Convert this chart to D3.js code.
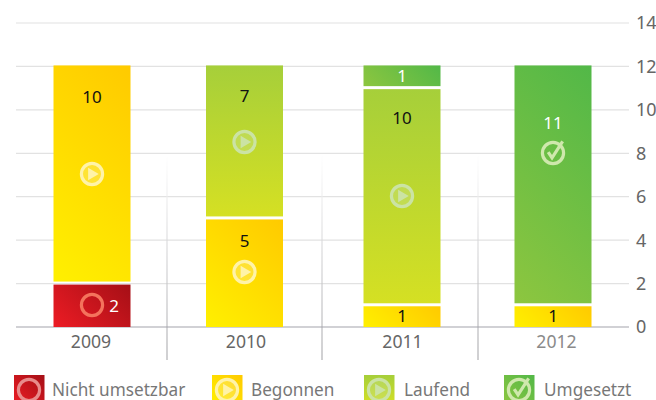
<!DOCTYPE html>
<html><head><meta charset="utf-8">
<script src="https://cdn.jsdelivr.net/npm/d3@7"></script>
<style>html,body{margin:0;padding:0;background:#fff;overflow:hidden}svg{display:block}text{font-family:"Noto Sans",sans-serif}</style>
</head><body><div id="c"></div>
<script>
const years = ["2009","2010","2011","2012"];
const seriesNames = ["Nicht umsetzbar","Begonnen","Laufend","Umgesetzt"];
const nichtUmsetzbar = [2,0,0,0];
const begonnen = [10,5,1,1];
const laufend = [0,7,10,0];
const umgesetzt = [0,0,1,11];
const yTicks = [0,2,4,6,8,10,12,14];

// layout only (separate from the data)
const W=656,H=400;
const barW=77;
const xCenters=[92,244.5,402,553];
const xLabelCenters=[91,246,402.5,556.5];
const separators=[167,322,478];
const legendX=[14,212,364,504];
const legendTextX=[52,251,404,544];
const labelLayout={ // per series, per year: [label cx, label cy, icon cx, icon cy]
  "Nicht umsetzbar":{"2009":[114,306,92,305]},
  "Begonnen":{"2009":[92,97,92,174],"2010":[244.5,241,244.5,272],"2011":[402,316],"2012":[553,316]},
  "Laufend":{"2010":[244.5,96,244.5,142],"2011":[402,118,402,196]},
  "Umgesetzt":{"2011":[402,76],"2012":[553,123,553,153]}
};
const labelColor={"Nicht umsetzbar":"#fff","Begonnen":"#111","Laufend":"#111","Umgesetzt":"#fff"};
const iconKind={"Nicht umsetzbar":"ring","Begonnen":"play","Laufend":"play","Umgesetzt":"check"};
const iconColor={"Nicht umsetzbar":"#f4735c","Begonnen":"#fff3a8","Laufend":"#cbe3a4","Umgesetzt":"#cfe8ac"};
const gradStops={"Nicht umsetzbar":["#ed1c24","#a50f16"],"Begonnen":["#fff000","#ffca00"],"Umgesetzt":["#8dc63f","#52b848"]};

const svg=d3.select("#c").append("svg").attr("width",W).attr("height",H);
const defs=svg.append("defs");
let gradCount=0;
function stops(g,c1,c2){
  g.append("stop").attr("offset",0).attr("stop-color",c1);
  g.append("stop").attr("offset",1).attr("stop-color",c2);
}
// 45-degree gradient in pixel space, from the lower-left to the upper-right corner of a box
function diag(name,bx,by,bw,bh){
  const id="g"+(gradCount++), half=(bw+bh)/2;
  const g=defs.append("linearGradient").attr("id",id).attr("gradientUnits","userSpaceOnUse")
    .attr("x1",bx).attr("y1",by+bh).attr("x2",bx+half).attr("y2",by+bh-half);
  stops(g,gradStops[name][0],gradStops[name][1]);
  return `url(#${id})`;
}
function fillFor(name,bx,by,bw,bh){
  return name==="Laufend"?"url(#gLime)":diag(name,bx,by,bw,bh);
}
stops(defs.append("linearGradient").attr("id","gLime").attr("x1",0).attr("y1",0).attr("x2",0).attr("y2",1),"#a6cf3a","#d5e023");
stops(defs.append("linearGradient").attr("id","gSep").attr("x1",0).attr("y1",0).attr("x2",0).attr("y2",1),"#ffffff","#a0a0a4");

const y=d3.scaleLinear().domain([0,14]).range([327,23]);
const x=d3.scaleOrdinal().domain(years).range(xCenters);
const xLabel=d3.scaleOrdinal().domain(years).range(xLabelCenters);

svg.append("g").selectAll("line").data(yTicks.filter(t=>t>0)).join("line")
  .attr("x1",16).attr("x2",629).attr("y1",d=>y(d)).attr("y2",d=>y(d))
  .attr("stroke","#e2e2e2").attr("stroke-width",1.2);

svg.append("g").selectAll("rect").data(separators).join("rect")
  .attr("x",d=>d-0.5).attr("width",1).attr("y",155).attr("height",205).attr("fill","url(#gSep)");

svg.append("line").attr("x1",16).attr("x2",629).attr("y1",y(0)).attr("y2",y(0)).attr("stroke","#a3a3ab").attr("stroke-width",1.2);

const rows=years.map((yr,i)=>({year:yr,"Nicht umsetzbar":nichtUmsetzbar[i],"Begonnen":begonnen[i],"Laufend":laufend[i],"Umgesetzt":umgesetzt[i]}));
const stacked=d3.stack().keys(seriesNames)(rows);

function drawIcon(g,kind,color,cx,cy,r,sw){
  const n=g.append("g").attr("transform",`translate(${cx},${cy})`);
  n.append("circle").attr("r",r).attr("fill",kind==="ring"?"none":color).attr("fill-opacity",kind==="play"?0.3:0).attr("stroke",color).attr("stroke-width",sw);
  const s=r/11;
  if(kind==="play"){
    n.append("path").attr("d",`M${-4*s},${-6.5*s}L${7*s},0L${-4*s},${6.5*s}Z`).attr("fill",color);
  }
  if(kind==="check"){
    n.append("path").attr("d",`M${-5*s},${-1*s}L${-1*s},${5*s}L${10*s},${-12*s}`).attr("fill","none").attr("stroke",color).attr("stroke-width",sw);
  }
}

const bars=svg.append("g");
stacked.forEach(s=>{
  const name=s.key;
  s.forEach((d,i)=>{
    if(d[1]-d[0]<=0) return;
    const yr=years[i];
    const top=y(d[1])-(d[1]>=12?1:-1);
    const bot=d[0]===0?y(0):y(d[0])-2;
    const bx=x(yr)-barW/2;
    bars.append("rect").attr("x",bx).attr("width",barW).attr("y",top).attr("height",bot-top)
      .attr("fill",fillFor(name,bx,top,barW,bot-top));
  });
});
stacked.forEach(s=>{
  const name=s.key;
  s.forEach((d,i)=>{
    const v=d[1]-d[0]; if(v<=0) return;
    const L=labelLayout[name][years[i]];
    bars.append("text").attr("x",L[0]).attr("y",L[1]).attr("dy","0.36em").attr("text-anchor","middle")
      .attr("font-size",17).attr("fill",labelColor[name]).text(v);
    if(L.length>2) drawIcon(bars,iconKind[name],iconColor[name],L[2],L[3],10.6,3.2);
  });
});

svg.append("g").selectAll("text").data(yTicks).join("text")
  .attr("x",636).attr("y",d=>y(d)).attr("dy","0.36em").attr("font-size",18).attr("fill","#666").text(d=>d);

svg.append("g").selectAll("text").data(years).join("text")
  .attr("x",d=>xLabel(d)).attr("y",342).attr("dy","0.36em").attr("text-anchor","middle").attr("font-size",17.6)
  .attr("fill",d=>d==="2012"?"#8a8a8a":"#666").text(d=>d);

seriesNames.forEach((name,i)=>{
  const lx=legendX[i];
  svg.append("rect").attr("x",lx).attr("y",375).attr("width",30.5).attr("height",30).attr("fill",fillFor(name,lx,375,30.5,30));
  drawIcon(svg,iconKind[name],name==="Nicht umsetzbar"?"#e88b8b":iconColor[name],lx+15,390,10.6,3.2);
  svg.append("text").attr("x",legendTextX[i]).attr("y",390).attr("dy","0.36em").attr("font-size",17.2).attr("fill","#777").text(name);
});
</script></body></html>
